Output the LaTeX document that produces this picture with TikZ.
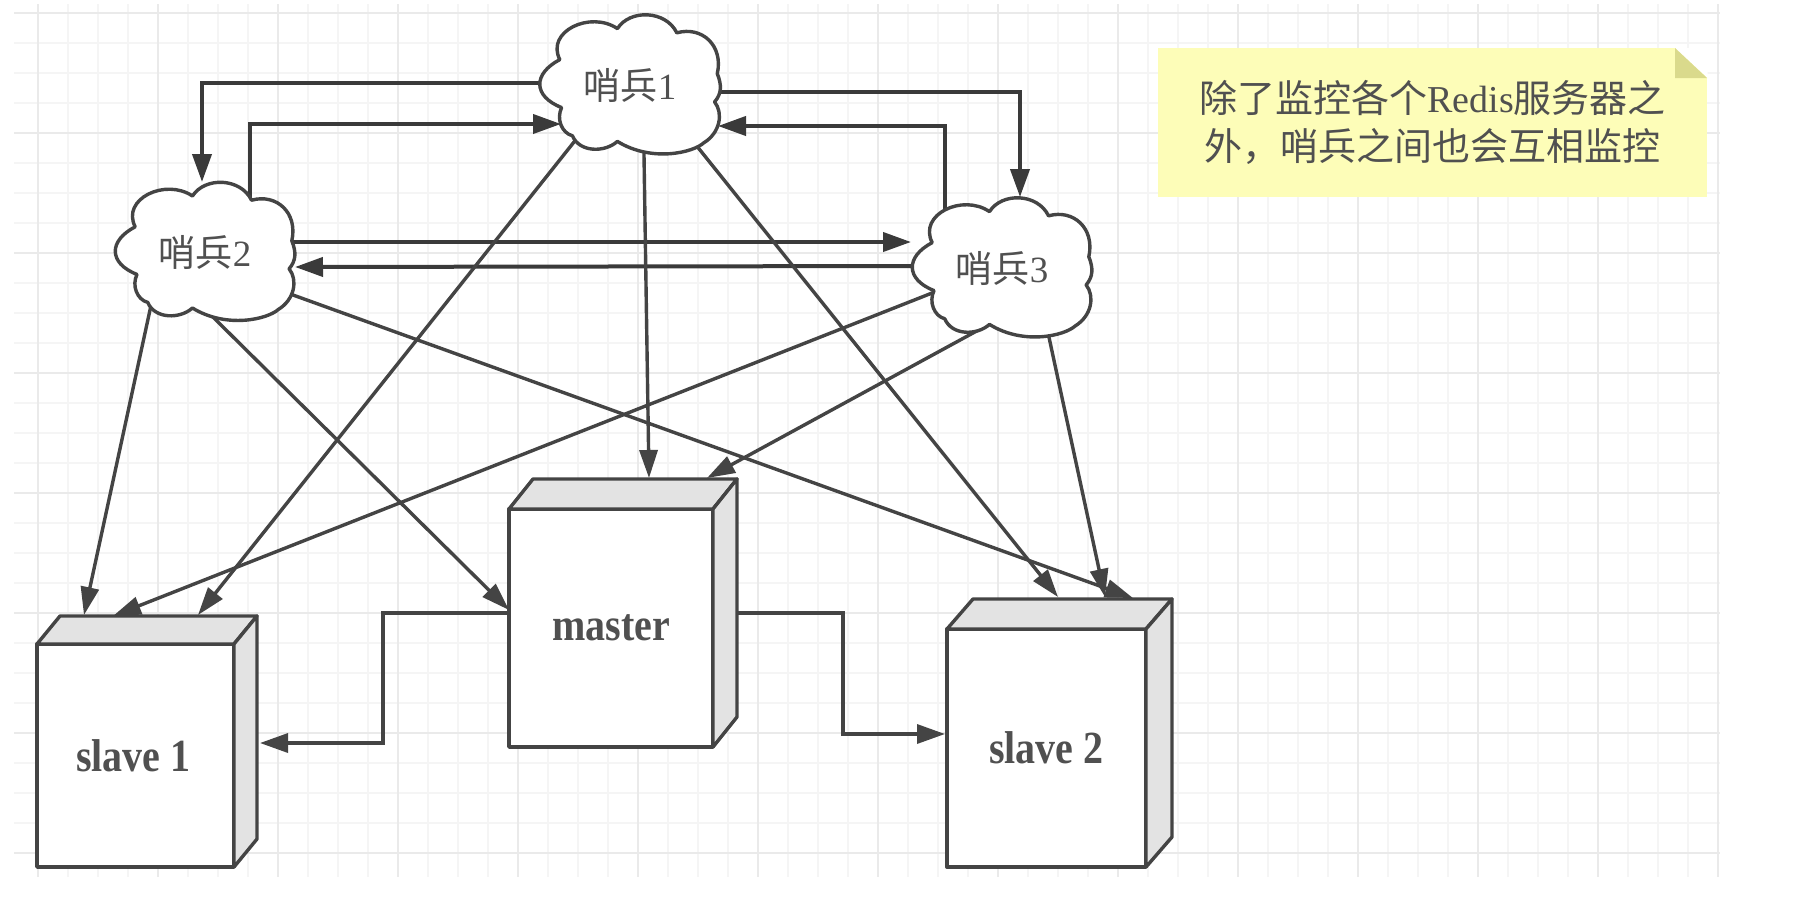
\documentclass[tikz,border=0pt]{standalone}
\usepackage{fontspec}
\setmainfont{Liberation Serif}
\newfontfamily\cjk{Noto Sans CJK SC}
\usetikzlibrary{arrows.meta,calc}
\definecolor{ink}{HTML}{444444}
\definecolor{txt}{HTML}{505050}
\definecolor{gridminor}{HTML}{F5F5F5}
\definecolor{gridmajor}{HTML}{EAEAEA}
\definecolor{sidefill}{HTML}{E3E3E3}
\definecolor{notefill}{HTML}{FDFDB8}
\definecolor{foldfill}{HTML}{DADA8C}
\pgfdeclarelayer{gridlayer}
\pgfdeclarelayer{edgelayer}
\pgfsetlayers{gridlayer,edgelayer,main}
\tikzset{
  x=1pt,y=-1pt,
  minorline/.style={draw=gridminor,line width=1.3pt},
  majorline/.style={draw=gridmajor,line width=1.8pt},
  cloudline/.style={draw=ink,line width=3.4pt,fill=white,line join=round},
  cloudtext/.style={inner sep=0pt,outer sep=0pt,text=txt,font=\fontsize{37}{37}\selectfont},
  boxfront/.style={draw=ink,line width=3.4pt,fill=white,inner sep=0pt,outer sep=0pt,text=txt,font=\bfseries\fontsize{40}{40}\selectfont,line join=round},
  boxside/.style={draw=ink,line width=3.4pt,fill=sidefill,line join=round},
  thickedge/.style={draw=ink!85!black,line width=4pt,line join=miter,shorten <=-14pt,-{Triangle[length=28pt,width=19pt]}},
  diagedge/.style={draw=ink,line width=3.4pt,shorten <=-14pt,-{Triangle[length=28pt,width=18pt]}},
  stepedge/.style={draw=ink,line width=3.4pt,line join=miter,shorten <=-14pt,-{Triangle[length=28pt,width=19pt]}},
  notebox/.style={fill=notefill,inner sep=0pt,outer sep=0pt,minimum width=549pt,minimum height=149pt},
}
\newcommand{\cloudnode}[6]{%
  \begin{scope}[shift={({#2-#4/2},{#3-#5/2})},xscale=#4,yscale=#5]
    \draw[cloudline] (.43,.10)
      .. controls (.50,-.04) and (.70,-.03) .. (.76,.13)
      .. controls (.90,.08) and (1.02,.22) .. (.985,.42)
      .. controls (1.01,.50) and (1.01,.56) .. (.97,.62)
      .. controls (1.02,.70) and (1.00,.84) .. (.91,.91)
      .. controls (.85,.98) and (.62,1.05) .. (.43,.90)
      .. controls (.36,.98) and (.22,.98) .. (.18,.86)
      .. controls (.12,.84) and (.09,.74) .. (.12,.66)
      .. controls (-.04,.58) and (-.04,.42) .. (.11,.32)
      .. controls (.03,.12) and (.28,-.03) .. (.43,.10) -- cycle;
  \end{scope}
  \node[cloudtext] (#1) at (#2,#3) {{\cjk 哨兵}#6};
}
\newcommand{\cuboid}[7]{%
  \node[boxfront,minimum width=#4 pt,minimum height=#5 pt] (#1) at (#2,#3) {\scalebox{1}[1.15]{#6}};
  \draw[boxside] (#1.north west) -- ++(#7) -- ($(#1.north east)+(#7)$) -- (#1.north east) -- cycle;
  \draw[boxside] (#1.north east) -- ++(#7) -- ($(#1.south east)+(#7)$) -- (#1.south east) -- cycle;
}
\begin{document}
\begin{tikzpicture}
\useasboundingbox (0,0) rectangle (1794,903);
\begin{pgfonlayer}{gridlayer}
\fill[white] (0,0) rectangle (1794,903);
\foreach \k in {0,...,56}{
  \pgfmathsetmacro{\xx}{38+30*\k}
  \draw[minorline] (\xx,4) -- (\xx,877);
}
\foreach \k in {0,...,28}{
  \pgfmathsetmacro{\yy}{13+30*\k}
  \draw[minorline] (14,\yy) -- (1720,\yy);
}
\foreach \k in {0,...,14}{
  \pgfmathsetmacro{\xx}{38+120*\k}
  \draw[majorline] (\xx,4) -- (\xx,877);
}
\foreach \k in {0,...,7}{
  \pgfmathsetmacro{\yy}{13+120*\k}
  \draw[majorline] (14,\yy) -- (1720,\yy);
}
\end{pgfonlayer}
% note
\node[notebox] (note) at (1432.5,122.5) {};
\fill[white] (1675,48) -- (1707.5,48) -- (1707.5,78) -- cycle;
\fill[foldfill] (note.north east) ++(-32,0) -- ++(0,30) -- ++(32,0) -- cycle;
\node[text=txt,inner sep=0pt,font=\fontsize{38}{48}\selectfont,align=center] (notetext) at (note.center) {{\cjk 除了监控各个}Redis{\cjk 服务器之}\\{\cjk 外，哨兵之间也会互相监控}};
% clouds
\cloudnode{sa}{630}{85}{180}{141}{1}
\cloudnode{sb}{205}{252}{179}{140}{2}
\cloudnode{sc}{1002}{268}{179}{141}{3}
% boxes
\cuboid{slavea}{135.5}{755.5}{197}{223}{\hspace*{-4pt}slave 1}{23,-28}
\cuboid{master}{611}{628}{204}{238}{\raisebox{-2pt}{master}}{24,-30}
\cuboid{slaveb}{1046.5}{748}{199}{238}{slave 2}{26,-30}
\begin{pgfonlayer}{edgelayer}
% cloud to cloud
\draw[thickedge] ($(sa)+(-90,-2)$) -| ($(sb)+(-3,-70)$);
\draw[thickedge] ($(sb)+(45,-55)$) |- ($(sa)+(-69,39)$);
\draw[thickedge] ($(sa)+(83,7)$) -| ($(sc)+(18,-71)$);
\draw[thickedge] ($(sc)+(-57,-65)$) |- ($(sa)+(88,41)$);
\draw[thickedge] ($(sb)+(90,-10)$) -- ($(sc)+(-91,-26)$);
\draw[thickedge] ($(sc)+(-89,-2)$) -- ($(sb)+(90,15)$);
% cloud to box
\draw[diagedge] ($(sa)+(-56,57)$) -- ($(slavea)+(62.5,-140.5)$);
\draw[diagedge] ($(sa)+(14,70)$) -- ($(master)+(38,-150)$);
\draw[diagedge] ($(sa)+(66,60)$) -- ($(slaveb)+(11.5,-151)$);
\draw[diagedge] ($(sb)+(-55,58)$) -- ($(slavea)+(-51.5,-140.5)$);
\draw[diagedge] ($(sb)+(14,71)$) -- ($(master)+(-102,-18)$);
\draw[diagedge] ($(sb)+(88,43)$) -- ($(slaveb)+(86.5,-150)$);
\draw[diagedge] ($(sc)+(-75,27)$) -- ($(slavea)+(-22.5,-139.5)$);
\draw[diagedge] ($(sc)+(-18,59)$) -- ($(master)+(96,-150)$);
\draw[diagedge] ($(sc)+(45,60)$) -- ($(slaveb)+(58.5,-151)$);
% master to slaves
\draw[stepedge] ($(master)+(-102,-15)$) -- ($(master)+(-228,-15)$) -- ($(master)+(-228,115)$) -- ($(slavea)+(124.5,-12.5)$);
\draw[stepedge] ($(master)+(126,-15)$) -- ($(master)+(232,-15)$) -- ($(master)+(232,106)$) -- ($(slaveb)+(-101.5,-14)$);
\end{pgfonlayer}
\end{tikzpicture}
\end{document}
